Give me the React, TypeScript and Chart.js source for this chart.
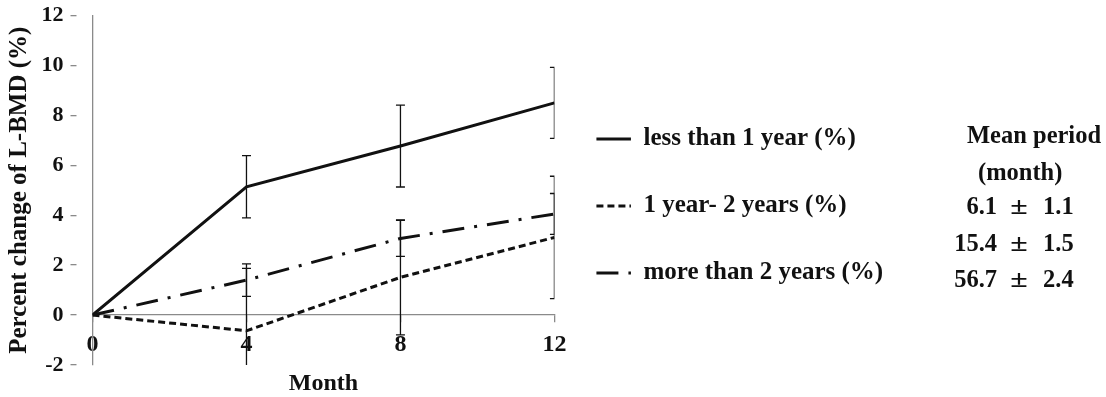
import React, { useEffect, useRef } from 'react';
import { Chart, registerables } from 'chart.js';

Chart.register(...registerables);

// ---- data ----
const months = [0, 4, 8, 12];
const seriesLabels = ['less than 1 year (%)', '1 year- 2 years (%)', 'more than 2 years (%)'];
const lessThan1Year = [0, 5.14, 6.77, 8.5];
const lessThan1YearErr = [0, 1.25, 1.64, 1.42];
const oneToTwoYears = [0, -0.63, 1.51, 3.11];
const oneToTwoYearsErr = [0, 2.5, 2.3, 2.45];
const moreThan2Years = [0, 1.4, 3.07, 4.05];
const moreThan2YearsErr = [0, 0.65, 0.72, 0.82];
const yMin = -2;
const yMax = 12;
const yStep = 2;
const xStep = 4;
const xTitle = 'Month';
const yTitle = 'Percent change of L-BMD (%)';
const meanPeriodHeader = ['Mean period', '(month)'];
const meanPeriodMeans = ['6.1', '15.4', '56.7'];
const meanPeriodSDs = ['1.1', '1.5', '2.4'];

const FONT = "'Liberation Serif', 'Times New Roman', serif";
const AXIS_GREY = '#8a8a8a';
const INK = '#111111';

const seriesValues = [lessThan1Year, oneToTwoYears, moreThan2Years];
const seriesErrors = [lessThan1YearErr, oneToTwoYearsErr, moreThan2YearsErr];
const seriesDash: number[][] = [[], [7, 4], [22, 10, 3, 10]];

const errorBarPlugin = {
  id: 'errorBars',
  afterDatasetsDraw(chart: any) {
    const { ctx, chartArea, scales } = chart;
    const xs = scales.x;
    const ys = scales.y;
    ctx.save();
    ctx.beginPath();
    ctx.rect(chartArea.left, chartArea.top, chartArea.right - chartArea.left, chartArea.bottom - chartArea.top);
    ctx.clip();
    ctx.strokeStyle = INK;
    ctx.lineWidth = 1.3;
    ctx.setLineDash([]);
    chart.data.datasets.forEach((ds: any, di: number) => {
      const errs = seriesErrors[di];
      ds.data.forEach((p: any, i: number) => {
        const e = errs[i];
        if (!e) return;
        const px = xs.getPixelForValue(p.x);
        const top = ys.getPixelForValue(p.y + e);
        const bot = ys.getPixelForValue(p.y - e);
        ctx.beginPath();
        ctx.moveTo(px, top);
        ctx.lineTo(px, bot);
        ctx.moveTo(px - 4.5, top);
        ctx.lineTo(px + 4.5, top);
        ctx.moveTo(px - 4.5, bot);
        ctx.lineTo(px + 4.5, bot);
        ctx.stroke();
      });
    });
    ctx.restore();
  },
};

export default function App() {
  const canvasRef = useRef<HTMLCanvasElement | null>(null);

  useEffect(() => {
    const canvas = canvasRef.current;
    if (!canvas) return;
    const chart = new Chart(canvas, {
      type: 'line',
      data: {
        datasets: seriesLabels.map((label, di) => ({
          label,
          data: months.map((m, i) => ({ x: m, y: seriesValues[di][i] })),
          borderColor: INK,
          backgroundColor: INK,
          borderWidth: 3,
          borderDash: seriesDash[di],
          pointRadius: 0,
          pointHoverRadius: 0,
          pointStyle: 'line',
          tension: 0,
          fill: false,
        })),
      },
      options: {
        responsive: false,
        animation: false,
        events: [],
        layout: { padding: { left: 0, top: 15.5, right: 212.8, bottom: 32 } },
        scales: {
          x: {
            type: 'linear',
            position: { y: 0 } as any,
            min: 0,
            max: 12,
            ticks: {
              stepSize: xStep,
              padding: 8.6,
              color: INK,
              font: { family: FONT, size: 24, weight: 'bold' },
            },
            grid: {
              display: true,
              drawOnChartArea: false,
              drawTicks: true,
              tickLength: 7,
              color: AXIS_GREY,
              lineWidth: 1.3,
            },
            border: { display: true, color: AXIS_GREY, width: 1.3 },
            title: {
              display: true,
              text: xTitle,
              color: INK,
              font: { family: FONT, size: 24, weight: 'bold' },
              padding: { top: 1, bottom: 0 },
            },
          },
          y: {
            type: 'linear',
            position: 'left',
            min: yMin,
            max: yMax,
            ticks: {
              stepSize: yStep,
              padding: 7,
              color: INK,
              font: { family: FONT, size: 22, weight: 'bold', lineHeight: 0.75 },
            },
            grid: {
              display: true,
              drawOnChartArea: false,
              drawTicks: true,
              tickLength: 22,
              tickBorderDash: [6, 200],
              color: AXIS_GREY,
              lineWidth: 1.3,
            },
            border: { display: true, color: AXIS_GREY, width: 1.3 },
            title: {
              display: true,
              text: yTitle,
              color: INK,
              font: { family: FONT, size: 25, weight: 'bold' },
              padding: { top: 4.5, bottom: 0 },
            },
          },
        },
        plugins: {
          tooltip: { enabled: false },
          legend: {
            display: true,
            position: 'right',
            align: 'start',
            maxWidth: 420,
            title: {
              display: true,
              text: ' ',
              font: { size: 10 },
              padding: { top: 57, bottom: 0 },
            },
            labels: {
              usePointStyle: true,
              pointStyleWidth: 34.5,
              padding: 42,
              color: INK,
              font: { family: FONT, size: 25, weight: 'bold' },
              generateLabels: (ch: any) => {
                const base = Chart.defaults.plugins.legend.labels.generateLabels(ch);
                return base.map((item: any, i: number) => ({
                  ...item,
                  pointStyle: 'line',
                  lineDash: seriesDash[i],
                  lineWidth: 3,
                  strokeStyle: INK,
                  fillStyle: INK,
                  fontColor: INK,
                }));
              },
            },
          },
        },
      },
      plugins: [errorBarPlugin],
    } as any);
    return () => chart.destroy();
  }, []);

  const textStyle: React.CSSProperties = {
    position: 'absolute',
    fontFamily: FONT,
    fontWeight: 'bold',
    fontSize: '24.5px',
    lineHeight: '24px',
    color: INK,
    whiteSpace: 'pre',
  };
  const rowTops = [193.5, 230.5, 267];

  return (
    <div style={{ position: 'absolute', left: 0, top: 0, width: 1106, height: 397 }}>
      <canvas ref={canvasRef} width={1106} height={397} style={{ display: 'block' }} />
      <div style={{ ...textStyle, left: 967, top: 123 }}>{meanPeriodHeader[0]}</div>
      <div style={{ ...textStyle, left: 978, top: 160 }}>{meanPeriodHeader[1]}</div>
      {meanPeriodMeans.map((m, i) => (
        <React.Fragment key={m}>
          <div style={{ ...textStyle, right: 1106 - 997, top: rowTops[i], textAlign: 'right' }}>{m}</div>
          <div
            style={{
              ...textStyle,
              left: 1010,
              width: 18,
              top: rowTops[i],
              textAlign: 'center',
              transform: 'scaleX(1.3)',
            }}
          >
            {'\u00b1'}
          </div>
          <div style={{ ...textStyle, left: 1043, top: rowTops[i] }}>{meanPeriodSDs[i]}</div>
        </React.Fragment>
      ))}
    </div>
  );
}
